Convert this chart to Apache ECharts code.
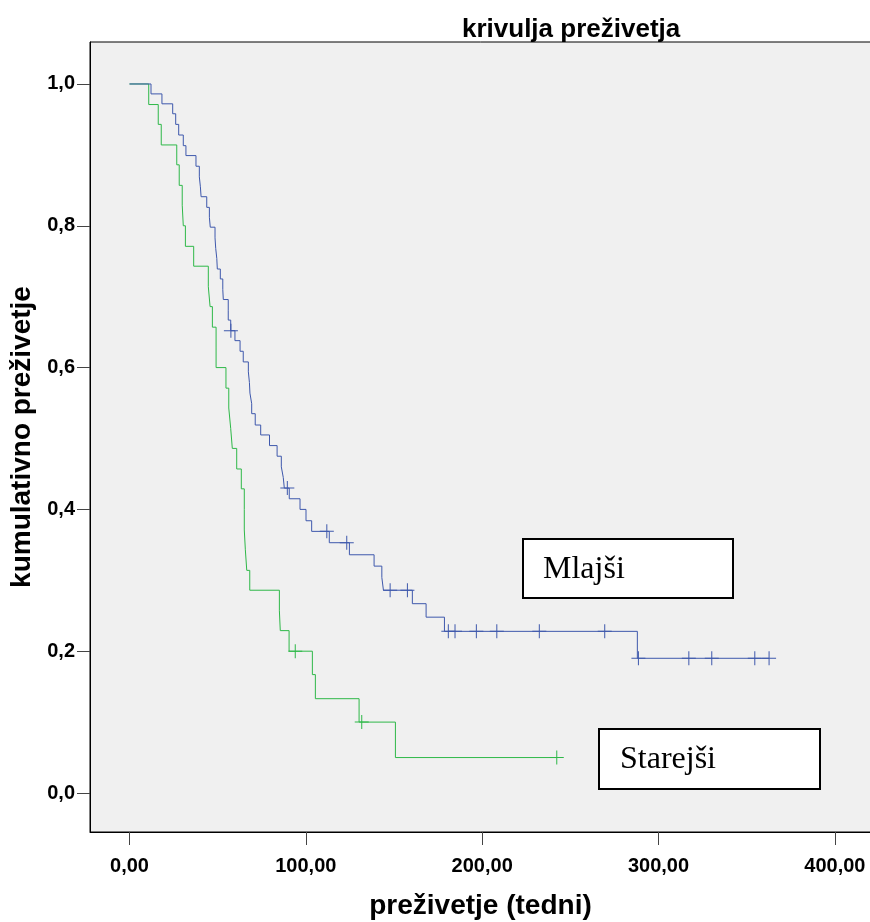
<!DOCTYPE html>
<html>
<head>
<meta charset="utf-8">
<script src="https://cdn.jsdelivr.net/npm/echarts@6.0.0/dist/echarts.min.js"></script>
<style>
    html, body { margin: 0; padding: 0; background: #fff; }
    #main { width: 870px; height: 922px; }
</style>
</head>
<body>
<div id="main"></div>
<script>
    // Mlajši - cas dogodka (tedni) in kumulativno prezivetje po dogodku
    var mlajsiCas = [12.2, 18.4, 24.5, 26.2, 27.9, 30.5, 32.0, 37.7, 39.6, 40.2, 40.6, 43.8, 45.3, 45.8, 48.5, 48.9, 49.5, 49.8,
        51.5, 52.9, 53.2, 56.0, 56.0, 57.4, 59.8, 62.7, 64.5, 67.4, 68.0, 68.3, 69.3, 69.3, 71.3, 74.4, 79.4, 83.7, 86.1, 87.2,
        87.8, 90.6, 96.7, 100.1, 103.3, 113.3, 124.7, 138.7, 143.1, 144.0, 160.4, 168.2, 178.6, 288.0];
    var mlajsiPrez = [0.986, 0.972, 0.958, 0.943, 0.928, 0.913, 0.899, 0.884, 0.869, 0.855, 0.841, 0.826, 0.812, 0.798, 0.783,
        0.768, 0.754, 0.739, 0.725, 0.710, 0.696, 0.681, 0.667, 0.652, 0.638, 0.623, 0.608, 0.594, 0.579, 0.564, 0.549, 0.535,
        0.519, 0.505, 0.490, 0.475, 0.460, 0.445, 0.430, 0.415, 0.400, 0.384, 0.369, 0.353, 0.336, 0.320, 0.304, 0.286, 0.267,
        0.248, 0.228, 0.190];
    var mlajsiCenz = [57.5, 89.5, 111.9, 123.2, 147.8, 157.6, 180.8, 184.6, 196.7, 208.3, 232.4, 269.5, 288.6, 317.2, 330.2, 354.6, 362.7];

    // Starejši
    var starejsiCas = [10.9, 16.3, 18.0, 26.8, 28.2, 29.9, 30.5, 31.7, 36.4, 44.7, 45.7, 47.0, 49.1, 49.1, 54.7, 56.3, 57.4,
        58.3, 60.8, 63.4, 65.1, 65.1, 65.7, 66.5, 68.2, 85.0, 85.5, 90.5, 103.7, 105.4, 130.2, 150.8];
    var starejsiPrez = [0.971, 0.943, 0.914, 0.886, 0.857, 0.829, 0.800, 0.771, 0.743, 0.714, 0.686, 0.657, 0.629, 0.600, 0.571,
        0.543, 0.514, 0.486, 0.457, 0.429, 0.400, 0.371, 0.343, 0.314, 0.286, 0.257, 0.229, 0.200, 0.167, 0.133, 0.100, 0.050];
    var starejsiCenz = [94.0, 131.7, 242.3];

    var xTicks = [0, 100, 200, 300, 400];
    var yTicks = [0, 0.2, 0.4, 0.6, 0.8, 1.0];

    var modra = '#3E58AC';
    var zelena = '#2EB848';
    var plus = 'path://M0,6.5H14V7.5H0Z M6.5,0H7.5V14H6.5Z';

    // stopnicasta krivulja: zacne pri (0,1), konca pri zadnji cenzuri
    function krivulja(cas, prez, cenz) {
        var d = [[0, 1]];
        for (var i = 0; i < cas.length; i++) d.push([cas[i], prez[i]]);
        var konec = Math.max(cas[cas.length - 1], cenz[cenz.length - 1]);
        d.push([konec, prez[prez.length - 1]]);
        return d;
    }
    // vrednost krivulje ob casu t
    function vrednost(cas, prez, t) {
        var v = 1;
        for (var i = 0; i < cas.length; i++) {
            if (cas[i] <= t) v = prez[i];
        }
        return v;
    }
    function cenzure(cas, prez, cenz) {
        return cenz.map(function (t) { return [t, vrednost(cas, prez, t)]; });
    }

    var font = '"Liberation Sans", Arial, sans-serif';
    var serif = '"Liberation Serif", "Times New Roman", serif';

    var myChart = echarts.init(document.getElementById('main'), null, { renderer: 'canvas' });
    var option = {
        animation: false,
        backgroundColor: '#fff',
        title: {
            text: 'krivulja preživetja',
            left: 457,
            top: 12,
            textStyle: { fontFamily: font, fontWeight: 'bold', fontSize: 26, color: '#000' }
        },
        grid: {
            left: 90, top: 42, width: 781, height: 790,
            outerBoundsMode: 'none', containLabel: false,
            show: true, backgroundColor: '#f0f0f0', borderColor: '#000', borderWidth: 1
        },
        xAxis: {
            type: 'value',
            min: -22.4, max: 420.5,
            name: 'preživetje (tedni)',
            nameLocation: 'middle',
            nameGap: 60,
            nameTextStyle: { fontFamily: font, fontWeight: 'bold', fontSize: 28, color: '#000' },
            axisLine: { show: true, onZero: false, lineStyle: { color: '#000', width: 1 } },
            axisTick: { show: true, length: 13, customValues: xTicks, lineStyle: { color: '#444' } },
            axisLabel: {
                customValues: xTicks, margin: 24,
                fontFamily: font, fontWeight: 'bold', fontSize: 20, color: '#000',
                formatter: function (v) { return v.toFixed(2).replace('.', ','); }
            },
            splitLine: { show: false }
        },
        yAxis: {
            type: 'value',
            min: -0.055, max: 1.0592,
            name: 'kumulativno preživetje',
            nameLocation: 'middle',
            nameGap: 44,
            nameTextStyle: { fontFamily: font, fontWeight: 'bold', fontSize: 28, color: '#000' },
            axisLine: { show: true, onZero: false, lineStyle: { color: '#000', width: 1 } },
            axisTick: { show: true, length: 13, customValues: yTicks, lineStyle: { color: '#444' } },
            axisLabel: {
                customValues: yTicks, margin: 15,
                fontFamily: font, fontWeight: 'bold', fontSize: 20, color: '#000',
                formatter: function (v) { return v.toFixed(1).replace('.', ','); }
            },
            splitLine: { show: false }
        },
        series: [
            {
                name: 'Mlajši', type: 'line', step: 'end', showSymbol: false,
                data: krivulja(mlajsiCas, mlajsiPrez, mlajsiCenz),
                lineStyle: { color: modra, width: 1 }, z: 3
            },
            {
                name: 'Starejši', type: 'line', step: 'end', showSymbol: false,
                data: krivulja(starejsiCas, starejsiPrez, starejsiCenz),
                lineStyle: { color: zelena, width: 1 }, z: 2
            },
            {
                type: 'scatter', symbol: plus, symbolSize: 14,
                data: cenzure(mlajsiCas, mlajsiPrez, mlajsiCenz),
                itemStyle: { color: modra, opacity: 1 }, z: 4
            },
            {
                type: 'scatter', symbol: plus, symbolSize: 14,
                data: cenzure(starejsiCas, starejsiPrez, starejsiCenz),
                itemStyle: { color: zelena, opacity: 1 }, z: 4
            }
        ],
        // oznaki skupin v okvirjih
        graphic: [
            {
                type: 'rect', left: 522, top: 538, z: 10,
                shape: { width: 210, height: 59 },
                style: { fill: '#fff', stroke: '#000', lineWidth: 2 }
            },
            {
                type: 'text', left: 543, top: 554, z: 11,
                style: { text: 'Mlajši', font: '32px ' + serif, fill: '#000' }
            },
            {
                type: 'rect', left: 598, top: 728, z: 10,
                shape: { width: 221, height: 60 },
                style: { fill: '#fff', stroke: '#000', lineWidth: 2 }
            },
            {
                type: 'text', left: 620, top: 744, z: 11,
                style: { text: 'Starejši', font: '32px ' + serif, fill: '#000' }
            }
        ]
    };
    myChart.setOption(option);
</script>
</body>
</html>
